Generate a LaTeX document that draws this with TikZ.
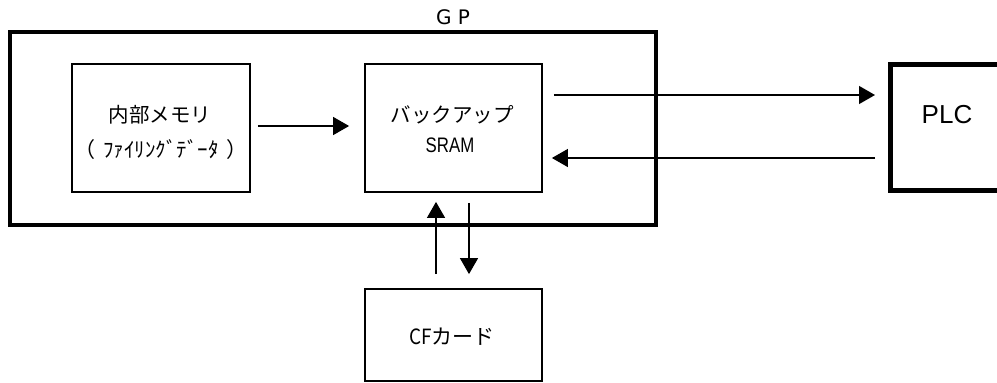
\documentclass[tikz,border=0pt]{standalone}
\usepackage{fontspec}
\newfontfamily\cjk{Noto Sans CJK JP}
\newfontfamily\lsans{Liberation Sans}
\newfontfamily\dsans{DejaVu Sans}
\usetikzlibrary{arrows.meta}
\begin{document}
\begin{tikzpicture}[x=1pt,y=-1pt,
  box/.style={draw, line width=1.8pt, inner sep=0pt, minimum width=177pt, minimum height=128pt},
  thickbox/.style={draw, inner sep=0pt},
  arr/.style={-{Triangle[length=16pt,width=18pt]}, line width=1.3pt},
  jp/.style={font=\cjk\fontsize{20.5}{24}\selectfont, inner sep=0pt},
  lbl/.style={inner sep=0pt}]
\useasboundingbox (0,0) rectangle (997,383);
\clip (0,0) rectangle (997,383);
% boxes
\node[thickbox, line width=4.5pt, minimum width=646pt, minimum height=193pt] (gp) at (333,128.5) {};
\node[lbl, font=\dsans\fontsize{20}{24}\selectfont] (gpl) at (453,17) {G P};
\node[box, minimum width=178pt] (mem) at (161,128) {};
\node[box] (bk) at (453.5,128) {};
\node[box, minimum height=92pt] (cf) at (453.5,335) {};
\node[thickbox, line width=5pt, minimum width=113pt, minimum height=126pt] (plc) at (946.5,127) {};
% texts
\node[jp] (memt) at (160,115) {内部メモリ};
\node[lbl, font=\cjk\fontsize{21}{24}\selectfont] (memt2) at (161,150) {（\hspace{8pt}ﾌｧｲﾘﾝｸﾞﾃﾞｰﾀ\hspace{8pt}）};
\node[jp] (bkt) at (452,115) {バックアップ};
\node[lbl, font=\lsans\fontsize{21}{24}\selectfont] (bkt2) at (450,145) {\scalebox{0.8}[1]{SRAM}};
\node[lbl, font=\lsans\fontsize{26}{30}\selectfont] (plct) at (947,115) {PLC};
\node[lbl, font=\cjk\fontsize{21}{24}\selectfont] (cft) at (452,337) {\scalebox{0.9}[1]{CF}カード};
% connectors
\draw[arr, shorten <=7pt, shorten >=15pt] ([yshift=2pt]mem.east) -- ([yshift=2pt]bk.west);
\draw[arr, shorten <=11pt, shorten >=12.5pt] ([yshift=33pt]bk.east) -- ([yshift=33pt]bk.east -| plc.west);
\draw[arr, shorten <=12.5pt, shorten >=9pt] ([yshift=-30pt]bk.east -| plc.west) -- ([yshift=-30pt]bk.east);
\draw[arr, shorten <=14pt, shorten >=9pt] ([xshift=-17.5pt]cf.north) -- ([xshift=-17.5pt]bk.south);
\draw[arr, shorten <=10pt, shorten >=14pt] ([xshift=15.5pt]bk.south) -- ([xshift=15.5pt]cf.north);
\end{tikzpicture}
\end{document}
